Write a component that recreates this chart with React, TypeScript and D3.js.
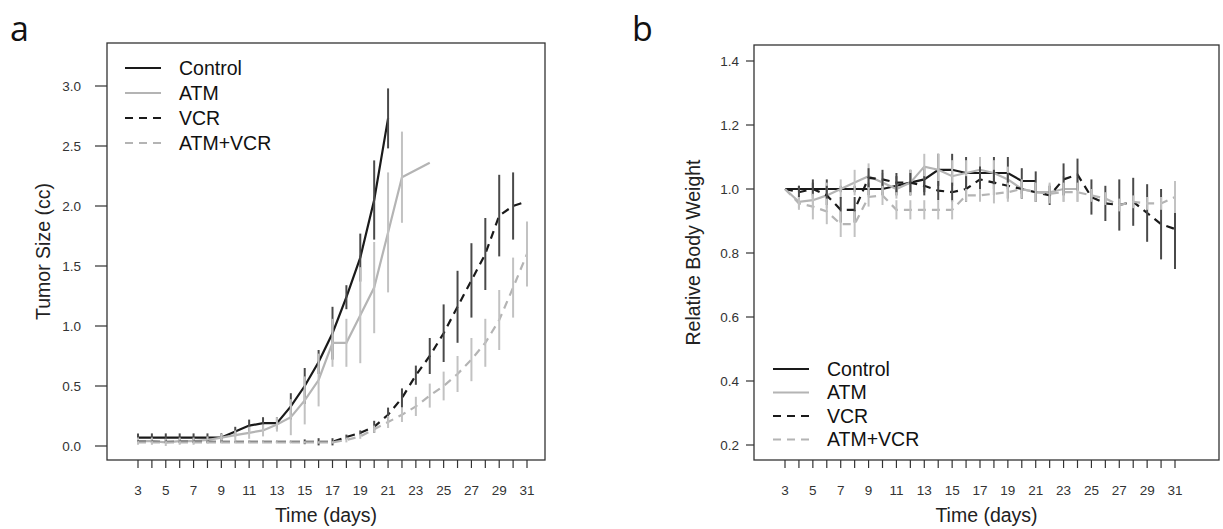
import React from "react";
import * as d3 from "d3";

// ---- data ----
const allDays = d3.range(3, 32);
const oddDays = allDays.filter(d => d % 2 === 1);

// panel a: tumor size (cc)
const ctrlDaysA = d3.range(3, 22);
const ctrlMeanA = [0.07, 0.07, 0.07, 0.07, 0.07, 0.07, 0.07, 0.12, 0.17, 0.19, 0.19, 0.33, 0.5, 0.7, 0.94, 1.24, 1.57, 2.05, 2.73];
const ctrlErrA = [0.035, 0.035, 0.035, 0.035, 0.035, 0.035, 0.035, 0.04, 0.05, 0.05, 0.05, 0.11, 0.15, 0.1, 0.22, 0.1, 0.2, 0.33, 0.25];

const atmDaysA = [3, 4, 5, 6, 7, 8, 9, 10, 11, 12, 13, 14, 15, 16, 17, 18, 19, 20, 21, 22, 24];
const atmMeanA = [0.04, 0.04, 0.03, 0.04, 0.04, 0.05, 0.07, 0.09, 0.11, 0.13, 0.18, 0.24, 0.38, 0.55, 0.86, 0.86, 1.09, 1.32, 1.78, 2.24, 2.36];
const atmErrA = [0.03, 0.03, 0.03, 0.03, 0.03, 0.03, 0.03, 0.04, 0.05, 0.05, 0.06, 0.15, 0.2, 0.22, 0.2, 0.2, 0.4, 0.38, 0.5, 0.38, 0];

const vcrDaysA = d3.range(3, 32);
const vcrMeanA = [0.035, 0.035, 0.035, 0.035, 0.035, 0.035, 0.035, 0.035, 0.035, 0.035, 0.035, 0.035, 0.035, 0.035, 0.035, 0.075, 0.11, 0.16, 0.26, 0.4, 0.59, 0.75, 0.94, 1.16, 1.38, 1.6, 1.92, 2.0, 2.04];
const vcrErrA = [0.01, 0.01, 0.01, 0.01, 0.01, 0.01, 0.01, 0.01, 0.01, 0.01, 0.01, 0.01, 0.02, 0.03, 0.03, 0.02, 0.02, 0.05, 0.06, 0.08, 0.08, 0.15, 0.24, 0.3, 0.31, 0.3, 0.34, 0.28, 0];

const comboDaysA = d3.range(3, 32);
const comboMeanA = [0.03, 0.03, 0.03, 0.03, 0.03, 0.03, 0.03, 0.03, 0.03, 0.03, 0.03, 0.03, 0.03, 0.03, 0.03, 0.05, 0.08, 0.14, 0.2, 0.26, 0.33, 0.42, 0.5, 0.6, 0.72, 0.86, 1.05, 1.32, 1.6];
const comboErrA = [0.01, 0.01, 0.01, 0.01, 0.01, 0.01, 0.01, 0.01, 0.01, 0.01, 0.01, 0.01, 0.01, 0.01, 0.01, 0.02, 0.02, 0.03, 0.05, 0.06, 0.08, 0.1, 0.12, 0.15, 0.18, 0.2, 0.25, 0.25, 0.27];

// panel b: relative body weight
const ctrlDaysB = d3.range(3, 22);
const ctrlMeanB = [1.0, 1.0, 1.0, 1.0, 1.0, 1.0, 1.0, 1.0, 1.01, 1.02, 1.03, 1.06, 1.06, 1.05, 1.05, 1.05, 1.05, 1.025, 1.025];
const ctrlErrB = [0, 0.01, 0.03, 0.03, 0.01, 0.01, 0.02, 0.02, 0.03, 0.04, 0.04, 0.05, 0.05, 0.05, 0.05, 0.05, 0.05, 0.04, 0.03];

const atmDaysB = d3.range(3, 25);
const atmMeanB = [1.0, 0.96, 0.965, 0.98, 1.0, 1.02, 1.04, 1.02, 1.0, 1.02, 1.07, 1.06, 1.04, 1.05, 1.06, 1.05, 1.03, 1.0, 0.99, 0.99, 1.0, 1.0];
const atmErrB = [0, 0.02, 0.03, 0.04, 0.03, 0.04, 0.04, 0.03, 0.03, 0.04, 0.04, 0.05, 0.05, 0.04, 0.04, 0.04, 0.04, 0.03, 0.03, 0.03, 0.04, 0.04];

const vcrDaysB = d3.range(3, 32);
const vcrMeanB = [1.0, 0.99, 1.0, 0.98, 0.935, 0.935, 1.035, 1.03, 1.02, 1.02, 1.01, 0.995, 0.99, 1.0, 1.03, 1.02, 1.01, 1.0, 0.99, 0.98, 1.03, 1.045, 0.975, 0.955, 0.95, 0.96, 0.925, 0.89, 0.875];
const vcrErrB = [0, 0.02, 0.02, 0.03, 0.04, 0.04, 0.03, 0.03, 0.03, 0.03, 0.03, 0.03, 0.03, 0.04, 0.04, 0.04, 0.04, 0.03, 0.03, 0.03, 0.05, 0.05, 0.055, 0.055, 0.08, 0.075, 0.09, 0.11, 0.125];

const comboDaysB = d3.range(3, 32);
const comboMeanB = [1.0, 0.955, 0.945, 0.93, 0.89, 0.89, 0.975, 0.98, 0.935, 0.935, 0.935, 0.935, 0.935, 0.98, 0.98, 0.985, 0.99, 1.0, 0.99, 0.985, 0.99, 0.99, 0.98, 0.97, 0.95, 0.96, 0.955, 0.955, 0.975];
const comboErrB = [0, 0.02, 0.04, 0.04, 0.04, 0.04, 0.03, 0.03, 0.03, 0.03, 0.03, 0.03, 0.03, 0.02, 0.02, 0.03, 0.03, 0.03, 0.03, 0.03, 0.03, 0.03, 0.02, 0.02, 0.02, 0.02, 0.02, 0.02, 0.05];

const legendLabels = ["Control", "ATM", "VCR", "ATM+VCR"];

const BLACK = "#1a1a1a";
const GRAY = "#b4b4b4";
const FONT = "'Liberation Sans', Arial, sans-serif";

const styles = [
  { color: BLACK, bar: "#4a4a4a", dash: null },
  { color: GRAY, bar: "#c2c2c2", dash: null },
  { color: BLACK, bar: "#4a4a4a", dash: "8,6" },
  { color: GRAY, bar: "#c2c2c2", dash: "8,6" },
];

type Series = { days: number[]; mean: number[]; err: number[] };

function Panel(props: {
  box: { l: number; r: number; t: number; b: number };
  x: d3.ScaleLinear<number, number>;
  y: d3.ScaleLinear<number, number>;
  yTicks: number[];
  yFmt: (v: number) => string;
  yTitle: string;
  yTitleX: number;
  tickLen: number;
  labelGap: number;
  letter: string;
  letterX: number;
  series: Series[];
  legend: { x: number; y: number; gap: number };
}) {
  const { box, x, y, yTicks, yFmt, yTitle, yTitleX, tickLen, labelGap, letter, letterX, series, legend } = props;
  const line = d3.line<[number, number]>().x(d => x(d[0])).y(d => y(d[1]));
  const midY = (box.t + box.b) / 2;
  const midX = (box.l + box.r) / 2;
  return (
    <g>
      <text x={letterX} y={41} fontFamily="'Open Sans', 'Noto Sans', sans-serif" fontSize={34} fill="#111">{letter}</text>
      <rect x={box.l} y={box.t} width={box.r - box.l} height={box.b - box.t} fill="none" stroke="#333" strokeWidth={1.3} />
      {/* y axis */}
      {yTicks.map(v => (
        <g key={v}>
          <line x1={box.l - tickLen} x2={box.l} y1={y(v)} y2={y(v)} stroke="#333" strokeWidth={1.2} />
          <text x={box.l - labelGap} y={y(v)} dy="0.35em" textAnchor="end" fontFamily={FONT} fontSize={13.5} fill="#333">{yFmt(v)}</text>
        </g>
      ))}
      <text transform={`translate(${yTitleX},${midY}) rotate(-90)`} textAnchor="middle" fontFamily={FONT} fontSize={19.5} fill="#222">{yTitle}</text>
      {/* x axis */}
      {allDays.map(d => (
        <line key={d} x1={x(d)} x2={x(d)} y1={box.b} y2={box.b + 8} stroke="#333" strokeWidth={1.2} />
      ))}
      {oddDays.map(d => (
        <text key={d} x={x(d)} y={box.b + 35} textAnchor="middle" fontFamily={FONT} fontSize={13.5} fill="#333">{d}</text>
      ))}
      <text x={midX} y={box.b + 62} textAnchor="middle" fontFamily={FONT} fontSize={19.5} fill="#222">Time (days)</text>
      {/* series */}
      {series.map((s, i) => {
        const st = styles[i];
        const pts = s.days.map((d, j) => [d, s.mean[j]] as [number, number]);
        return (
          <g key={i}>
            <path d={line(pts) || ""} fill="none" stroke={st.color} strokeWidth={2.2} strokeDasharray={st.dash || undefined} />
            {s.days.map((d, j) =>
              s.err[j] > 0 ? (
                <line key={j} x1={x(d)} x2={x(d)} y1={y(s.mean[j] - s.err[j])} y2={y(s.mean[j] + s.err[j])} stroke={st.bar} strokeWidth={2} />
              ) : null
            )}
          </g>
        );
      })}
      {/* legend */}
      {legendLabels.map((lab, i) => {
        const st = styles[i];
        const ly = legend.y + i * legend.gap;
        return (
          <g key={lab}>
            <line x1={legend.x} x2={legend.x + 36} y1={ly} y2={ly} stroke={st.color} strokeWidth={2.2} strokeDasharray={st.dash || undefined} />
            <text x={legend.x + 54} y={ly} dy="0.35em" fontFamily={FONT} fontSize={19.5} fill="#111">{lab}</text>
          </g>
        );
      })}
    </g>
  );
}

export default function App() {
  const boxA = { l: 107, r: 545, t: 43, b: 460 };
  const boxB = { l: 754, r: 1219, t: 45, b: 460 };
  const xA = d3.scaleLinear().domain([3, 31]).range([138, 527]);
  const yA = d3.scaleLinear().domain([0, 3]).range([446, 86]);
  const xB = d3.scaleLinear().domain([3, 31]).range([785, 1175]);
  const yB = d3.scaleLinear().domain([0.2, 1.4]).range([445, 61]);

  const seriesA: Series[] = [
    { days: ctrlDaysA, mean: ctrlMeanA, err: ctrlErrA },
    { days: atmDaysA, mean: atmMeanA, err: atmErrA },
    { days: vcrDaysA, mean: vcrMeanA, err: vcrErrA },
    { days: comboDaysA, mean: comboMeanA, err: comboErrA },
  ];
  const seriesB: Series[] = [
    { days: ctrlDaysB, mean: ctrlMeanB, err: ctrlErrB },
    { days: atmDaysB, mean: atmMeanB, err: atmErrB },
    { days: vcrDaysB, mean: vcrMeanB, err: vcrErrB },
    { days: comboDaysB, mean: comboMeanB, err: comboErrB },
  ];

  return (
    <svg width={1223} height={529} style={{ position: "absolute", left: 0, top: 0, background: "#fff" }}>
      <rect width={1223} height={529} fill="#fff" />
      <Panel box={boxA} x={xA} y={yA} yTicks={d3.range(0, 3.01, 0.5)} yFmt={d3.format(".1f")}
        yTitle="Tumor Size (cc)" yTitleX={50} tickLen={12} labelGap={26}
        letter="a" letterX={10} series={seriesA} legend={{ x: 125, y: 68, gap: 25 }} />
      <Panel box={boxB} x={xB} y={yB} yTicks={d3.range(0.2, 1.41, 0.2)} yFmt={d3.format(".1f")}
        yTitle="Relative Body Weight" yTitleX={700} tickLen={8} labelGap={15}
        letter="b" letterX={632} series={seriesB} legend={{ x: 773, y: 369, gap: 23.5 }} />
    </svg>
  );
}
